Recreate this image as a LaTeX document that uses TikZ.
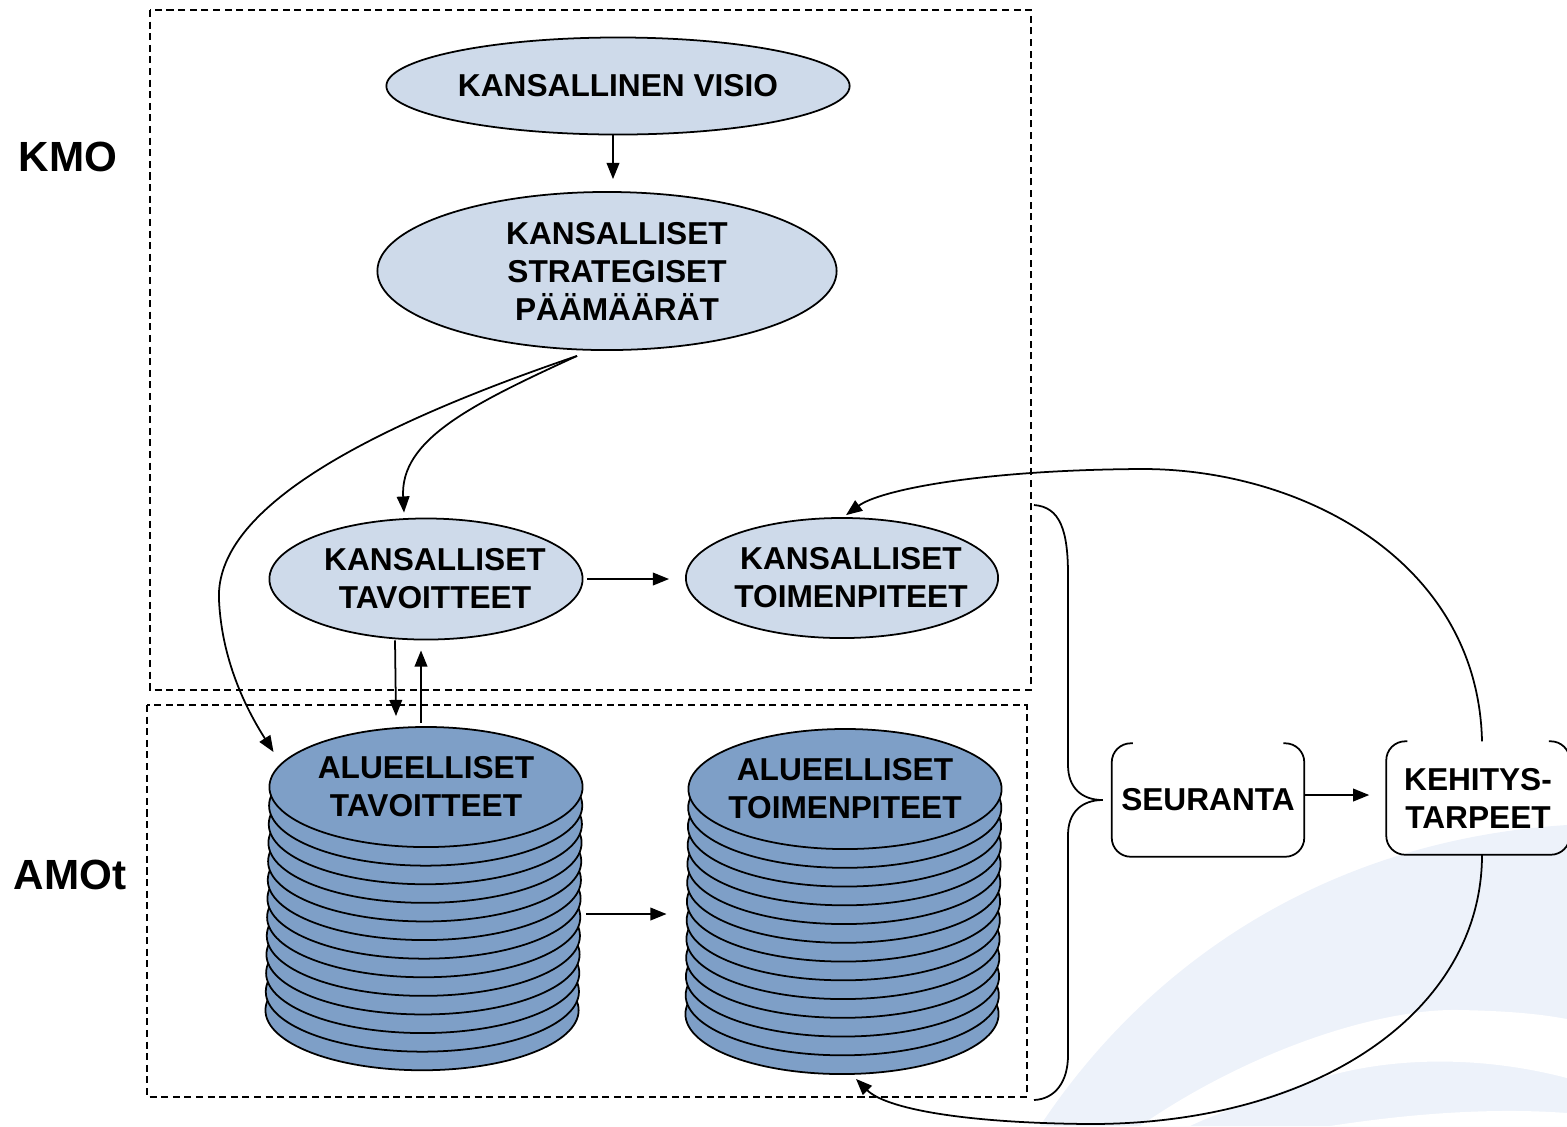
\documentclass[tikz,border=0pt]{standalone}
\usepackage{fontspec}
\setmainfont{Liberation Sans}
\usepackage{tikz}
\usetikzlibrary{arrows.meta, positioning, shapes.geometric, calc}
\usepackage{xcolor}
\definecolor{kmoblue}{RGB}{206,218,234}
\definecolor{amoblue}{RGB}{126,159,199}
\definecolor{swoosh}{RGB}{237,242,250}

\tikzset{
    kmoell/.style={draw, ellipse, fill=kmoblue, inner xsep=-0.3cm, inner ysep=0pt, align=center, line width=0.5pt},
    amoell/.style={draw, ellipse, fill=amoblue, inner xsep=-0.3cm, inner ysep=0pt, align=center, line width=0.5pt,
        minimum width=3.13cm, minimum height=1.2cm},
    arr/.style={-{Triangle[length=4.6pt, width=3.6pt]}, line width=0.5pt},
    levelbox/.style={draw, dashed, dash pattern=on 2pt off 1.3pt, line width=0.5pt},
    txt/.style={font=\fontsize{9}{10.8}\selectfont\bfseries, align=center}
}

\begin{document}
\begin{tikzpicture}[x=0.01cm, y=-0.01cm, every node/.style={txt}]
    \useasboundingbox (0,0) rectangle (1567,1126);

    % background
    \fill[swoosh] (1040,1126) .. controls (1150,960) and (1330,840) .. (1567,825) -- (1567,1126) -- cycle;
    \fill[white] (1140,1126) .. controls (1250,1050) and (1380,1008) .. (1460,1010)
        .. controls (1510,1011) and (1540,1014) .. (1567,1019) -- (1567,1078)
        .. controls (1480,1055) and (1380,1055) .. (1300,1085)
        .. controls (1250,1102) and (1210,1116) .. (1190,1126) -- cycle;
    \fill[white] (1330,1126) .. controls (1420,1112) and (1500,1108) .. (1567,1113) -- (1567,1126) -- cycle;

    % levels
    \draw[levelbox] (150,10) rectangle (1031,690);
    \draw[levelbox] (147,705) rectangle (1027,1097);
    \node[font=\fontsize{12}{14}\selectfont\bfseries] (kmo) at (68,157) {KMO};
    \node[font=\fontsize{12}{14}\selectfont\bfseries] (amot) at (70,875) {AMOt};

    % national level
    \node[kmoell, minimum width=4.63cm, minimum height=0.97cm] (visio) at (618,86) {KANSALLINEN VISIO};
    \node[kmoell, minimum width=4.59cm, minimum height=1.58cm] (strat) at (607,271) {\hspace*{0.2cm}KANSALLISET\\\hspace*{0.2cm}STRATEGISET\\\hspace*{0.2cm}PÄÄMÄÄRÄT};
    \node[kmoell, minimum width=3.13cm, minimum height=1.21cm] (ktav) at (426,579) {\hspace*{0.18cm}KANSALLISET\\\hspace*{0.18cm}TAVOITTEET};
    \node[kmoell, minimum width=3.12cm, minimum height=1.2cm] (ktoim) at (842,578) {\hspace*{0.18cm}KANSALLISET\\\hspace*{0.18cm}TOIMENPITEET};

    % regional stacks
    \foreach \k in {12,11,...,1} {
        \node[amoell] (atav-\k) at (426-0.33*\k, 787+18.6*\k) {};
        \node[amoell] (atoim-\k) at (845-0.25*\k, 789+18.75*\k) {};
    }
    \node[amoell] (atav) at (426,787) {ALUEELLISET\\TAVOITTEET};
    \node[amoell] (atoim) at (845,789) {ALUEELLISET\\TOIMENPITEET};

    % follow-up
    \node[minimum width=1.91cm, minimum height=1.12cm, inner sep=0pt] (seur) at (1208,800) {SEURANTA};
    \node[minimum width=1.82cm, minimum height=1.12cm, inner sep=0pt] (kehi) at (1478,798) {KEHITYS-\\TARPEET};
    \draw[line width=0.5pt, rounded corners=0.19cm] ($(seur.north west)+(21,0)$) -- (seur.north west)
        -- (seur.south west) -- (seur.south east) -- (seur.north east) -- ($(seur.north east)+(-21,0)$);
    \draw[line width=0.5pt, rounded corners=0.19cm] ($(kehi.north west)+(21,0)$) -- (kehi.north west)
        -- (kehi.south west) -- (kehi.south east) -- (kehi.north east) -- ($(kehi.north east)+(-21,0)$);

    % brace
    \coordinate (bracetip) at ($(seur.west)+(-9,0)$);
    \draw[line width=0.5pt] (1034,505) .. controls (1060,507) and (1068,530) .. (1068,575) -- (1068,765)
        .. controls (1068,788) and (1082,800) .. (bracetip)
        .. controls (1082,800) and (1068,812) .. (1068,835) -- (1068,1055)
        .. controls (1068,1082) and (1055,1099) .. (1034,1100);

    % connectors
    \draw[arr] ([xshift=-0.05cm]visio.south) -- ([xshift=-0.05cm, yshift=0.12cm]strat.north -| visio.south);
    \coordinate (sp) at ($(strat.south)+(-30,5)$);
    \draw[arr] (sp) .. controls (470,405) and (400,440) .. ($(ktav.north)+(-22,-5)$);
    \draw[arr] (sp) .. controls (330,440) and (215,520) .. (219,600)
        .. controls (222,665) and (250,715) .. ($(atav.west)+(5,-35)$);
    \draw[arr] ($(ktav.south)+(-31,0)$) -- ($(atav.north)+(-30,-10)$);
    \draw[arr] ($(atav.north)+(-5,-3)$) -- ($(ktav.south)+(-5,10)$);
    \draw[arr] ($(ktav.east)+(4,0)$) -- ($(ktoim.west)+(-16,1)$);
    \draw[arr] ($(atav.east)+(3,127)$) -- ($(atoim.west)+(-21,125)$);
    \draw[arr] ($(seur.east)+(0,-5)$) -- ($(kehi.west)+(-17,-3)$);
    \draw[arr] ($(kehi.north)+(4,0)$) .. controls (1478,560) and (1300,468) .. (1140,469)
        .. controls (980,470) and (880,490) .. ($(ktoim.north)+(4,-2)$);
    \draw[arr] ($(kehi.south)+(4,0)$) .. controls (1482,1010) and (1320,1124) .. (1090,1124)
        .. controls (960,1123) and (885,1108) .. ($(atoim-12.south)+(14,4)$);
\end{tikzpicture}
\end{document}
